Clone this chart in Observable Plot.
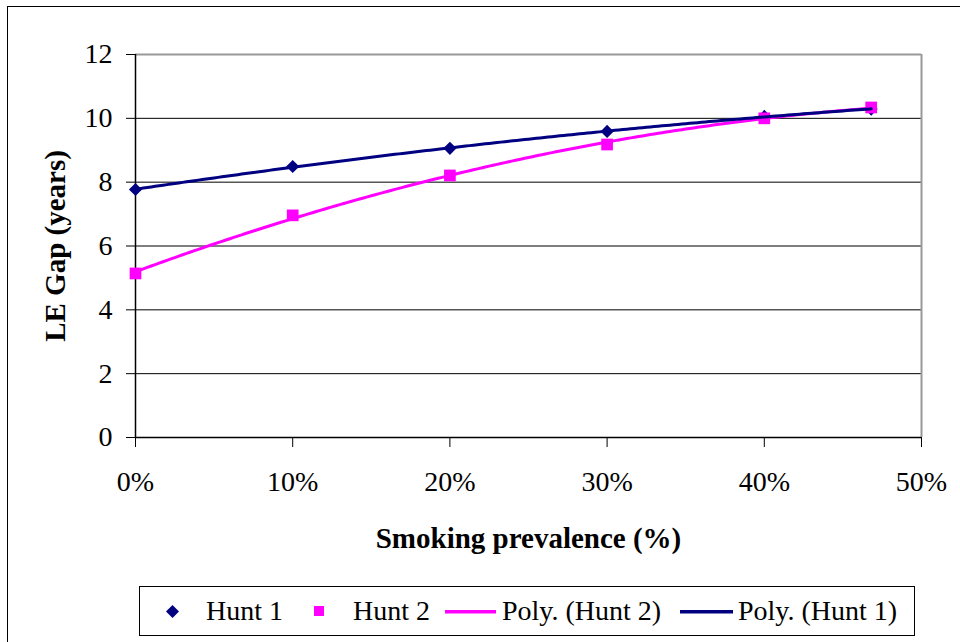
<!DOCTYPE html>
<html>
<head>
<meta charset="utf-8">
<script src="https://cdn.jsdelivr.net/npm/d3@7"></script>
<script src="https://cdn.jsdelivr.net/npm/@observablehq/plot@0.6"></script>
<style>
  html, body { margin: 0; padding: 0; background: #fff; }
  body { width: 960px; height: 642px; overflow: hidden; position: relative; font-family: "Liberation Serif", "Times New Roman", serif; }
  #frame { position: absolute; left: 7px; top: 6px; width: 1000px; height: 700px; border: 1.5px solid #000; box-sizing: border-box; }
  #chart { position: absolute; left: 0; top: 0; }
  #chart svg, #chart svg text { font-family: "Liberation Serif", "Times New Roman", serif !important; }
  #legend { position: absolute; left: 139px; top: 586px; width: 776px; height: 50px; border: 1px solid #000; box-sizing: border-box; background: #fff; }
  .lg { position: absolute; font-size: 28px; line-height: 48px; top: 0; color: #000; white-space: nowrap; }
  .sw { position: absolute; }
</style>
</head>
<body>
<div id="frame"></div>
<div id="chart"></div>
<div id="legend"></div>
<script>
// Smoking prevalence (%) and life-expectancy gap (years) for the two Hunt surveys
const prevalence = [0, 10, 20, 30, 40, 46.8];
const hunt1 = [7.77, 8.49, 9.06, 9.59, 10.06, 10.29];
const hunt2 = [5.14, 6.96, 8.21, 9.18, 10.0, 10.34];
const yTicks = [0, 2, 4, 6, 8, 10, 12];
const xTicks = [0, 10, 20, 30, 40, 50];

const navy = "#000080";
const magenta = "#FF00FF";

// Second-order least-squares polynomial trendline through the observed points
function polyFit2(xs, ys) {
  const n = xs.length;
  const s = [0, 0, 0, 0, 0], t = [0, 0, 0];
  for (let i = 0; i < n; i++) {
    const x = xs[i], y = ys[i];
    for (let k = 0; k <= 4; k++) s[k] += Math.pow(x, k);
    for (let k = 0; k <= 2; k++) t[k] += y * Math.pow(x, k);
  }
  const A = [[s[0], s[1], s[2], t[0]], [s[1], s[2], s[3], t[1]], [s[2], s[3], s[4], t[2]]];
  for (let c = 0; c < 3; c++) {
    for (let r = c + 1; r < 3; r++) {
      const f = A[r][c] / A[c][c];
      for (let k = c; k < 4; k++) A[r][k] -= f * A[c][k];
    }
  }
  const b = [0, 0, 0];
  for (let r = 2; r >= 0; r--) {
    let v = A[r][3];
    for (let k = r + 1; k < 3; k++) v -= A[r][k] * b[k];
    b[r] = v / A[r][r];
  }
  return x => b[0] + b[1] * x + b[2] * x * x;
}

const f1 = polyFit2(prevalence, hunt1);
const f2 = polyFit2(prevalence, hunt2);
const xMax = d3.max(prevalence);
const xs = d3.range(0, xMax, 0.25).concat([xMax]);
const trend1 = xs.map(x => ({x, y: f1(x)}));
const trend2 = xs.map(x => ({x, y: f2(x)}));

const pts1 = prevalence.map((x, i) => ({x, y: hunt1[i]}));
const pts2 = prevalence.map((x, i) => ({x, y: hunt2[i]}));

const chart = Plot.plot({
  width: 960,
  height: 580,
  marginLeft: 135,
  marginRight: 39,
  marginTop: 54,
  marginBottom: 143,
  style: {fontFamily: "Liberation Serif", fontSize: "28px", background: "transparent", color: "#000"},
  x: {domain: [0, 50]},
  y: {domain: [0, 12]},
  marks: [
    Plot.ruleY([2, 4, 6, 8, 10], {stroke: "#000", strokeWidth: 1}),
    Plot.ruleY([12], {stroke: "#999", strokeWidth: 2}),
    Plot.ruleX([50], {stroke: "#999", strokeWidth: 2}),
    Plot.ruleX([0], {stroke: "#000", strokeWidth: 1.5}),
    Plot.ruleY([0], {stroke: "#000", strokeWidth: 1.5}),
    Plot.axisY({ticks: yTicks, tickSize: 9, tickPadding: 14, fontSize: 28, label: null, stroke: "#000"}),
    Plot.axisX({ticks: xTicks, tickSize: 10, tickPadding: 24, fontSize: 28, label: null, tickFormat: d => d + "%", stroke: "#000"}),
    Plot.dot(pts1, {x: "x", y: "y", symbol: "diamond2", r: 5.9, fill: navy, stroke: "none"}),
    Plot.dot(pts2, {x: "x", y: "y", symbol: "square", r: 6.6, fill: magenta, stroke: "none"}),
    Plot.line(trend2, {x: "x", y: "y", stroke: magenta, strokeWidth: 3}),
    Plot.line(trend1, {x: "x", y: "y", stroke: navy, strokeWidth: 3}),
    Plot.text(["LE Gap (years)"], {frameAnchor: "left", textAnchor: "middle", lineAnchor: "middle", dx: -80, rotate: -90, fontWeight: "bold", fontSize: 29}),
    Plot.text(["Smoking prevalence (%)"], {frameAnchor: "bottom", textAnchor: "middle", lineAnchor: "middle", dy: 101, fontWeight: "bold", fontSize: 29})
  ]
});
document.getElementById("chart").append(chart);

// Legend: swatch and label positions inside the legend box
const legendItems = [
  {label: "Hunt 1", textLeft: 66, swLeft: 26, swTop: 18, swatch: `<svg width="13" height="13" viewBox="-6.5 -6.5 13 13"><path d="M0,-6.5L6.5,0L0,6.5L-6.5,0Z" fill="${navy}"/></svg>`},
  {label: "Hunt 2", textLeft: 213, swLeft: 174, swTop: 19, swatch: `<svg width="10" height="10"><rect width="10" height="10" fill="${magenta}"/></svg>`},
  {label: "Poly. (Hunt 2)", textLeft: 362, swLeft: 305, swTop: 22, swatch: `<svg width="51" height="4"><rect width="51" height="3.5" fill="${magenta}"/></svg>`},
  {label: "Poly. (Hunt 1)", textLeft: 598, swLeft: 540, swTop: 22, swatch: `<svg width="53" height="4"><rect width="53" height="3.5" fill="${navy}"/></svg>`}
];
const legend = document.getElementById("legend");
for (const it of legendItems) {
  const sw = document.createElement("div");
  sw.className = "sw";
  sw.style.left = it.swLeft + "px";
  sw.style.top = it.swTop + "px";
  sw.style.lineHeight = "0";
  sw.innerHTML = it.swatch;
  legend.append(sw);
  const t = document.createElement("div");
  t.className = "lg";
  t.style.left = it.textLeft + "px";
  t.textContent = it.label;
  legend.append(t);
}
</script>
</body>
</html>
